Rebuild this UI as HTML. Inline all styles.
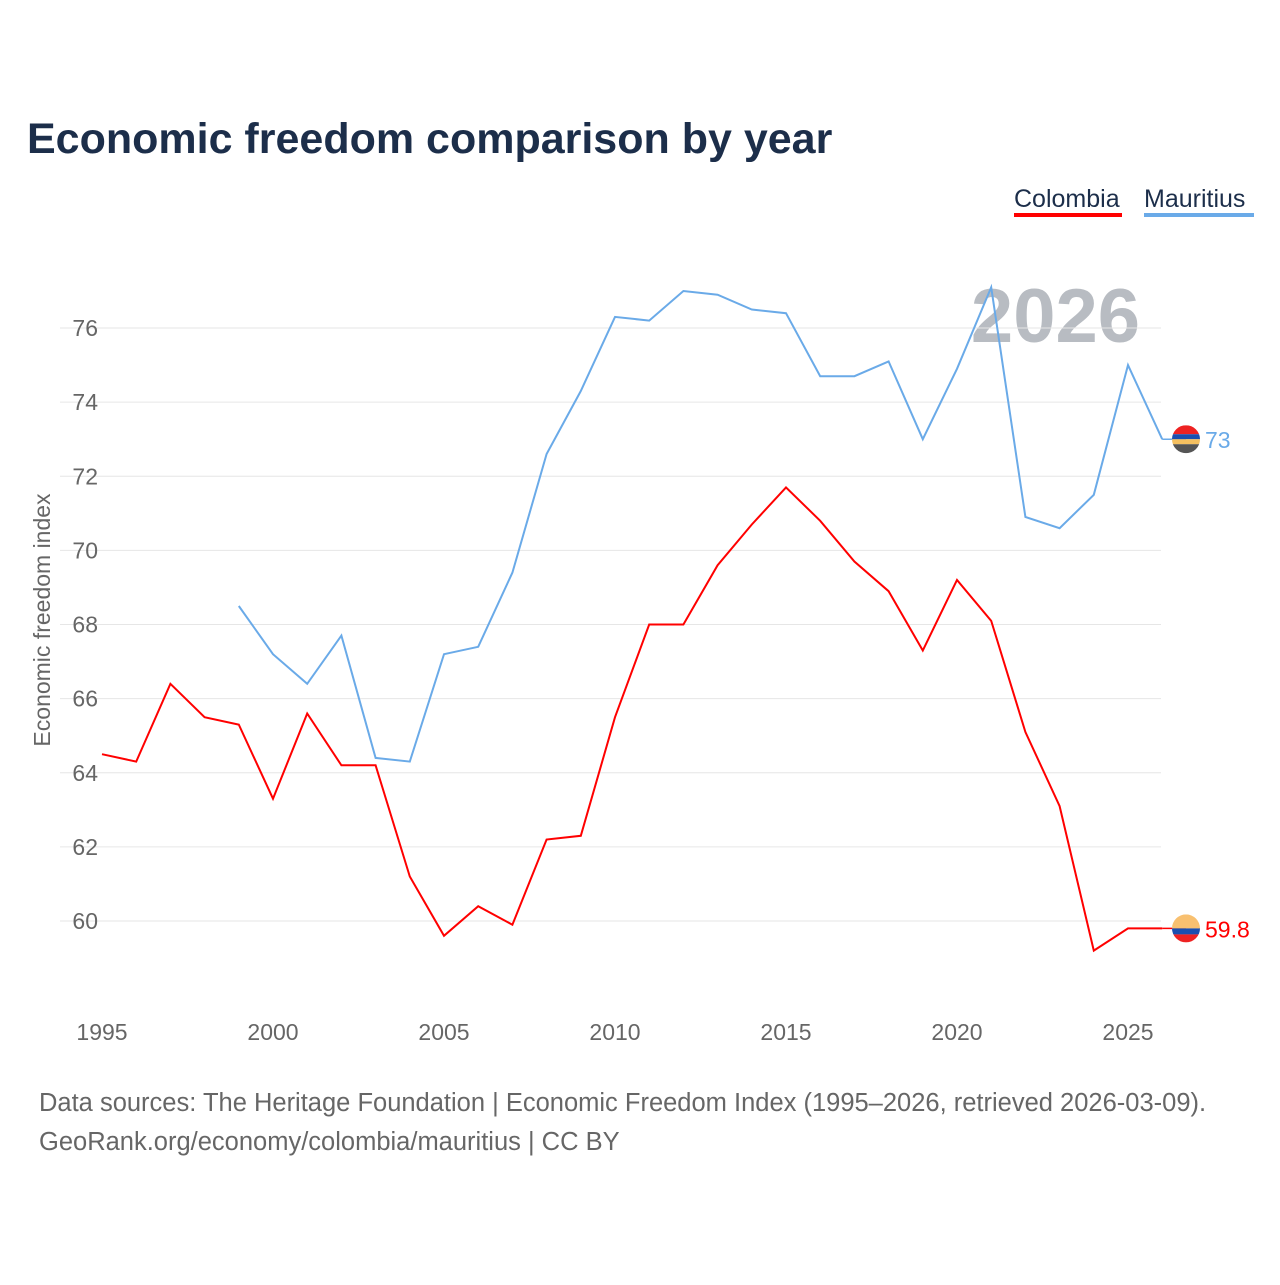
<!DOCTYPE html>
<html><head><meta charset="utf-8">
<style>
body{margin:0;background:#fff;}
svg text{font-family:"Liberation Sans",sans-serif;}
</style></head>
<body>
<svg id="chart" width="1280" height="1280" viewBox="0 0 1280 1280" xmlns="http://www.w3.org/2000/svg">
<rect width="1280" height="1280" fill="#fff"/>
<text x="27" y="153" font-size="43" font-weight="bold" fill="#1c2e4a">Economic freedom comparison by year</text>
<g>
<g><text x="1014" y="207" font-size="25" fill="#1c2e4a">Colombia</text><rect x="1014" y="213" width="108" height="4" fill="#ff0000"/></g>
<g><text x="1144" y="207" font-size="25" fill="#1c2e4a">Mauritius</text><rect x="1144" y="213" width="110" height="4" fill="#6aaae8"/></g>
</g>
<text x="1140" y="342" text-anchor="end" font-size="76" font-weight="bold" fill="#b8bcc2">2026</text>
<g id="grid"></g>
<g id="series"></g>
<text transform="translate(50,620) rotate(-90)" text-anchor="middle" font-size="23" fill="#666">Economic freedom index</text>
<text x="39" y="1111" font-size="25.5" fill="#666">Data sources: The Heritage Foundation | Economic Freedom Index (1995–2026, retrieved 2026-03-09).</text>
<text x="39" y="1150" font-size="25.5" fill="#666">GeoRank.org/economy/colombia/mauritius | CC BY</text>
</svg>
<script>
const years=[1995,1996,1997,1998,1999,2000,2001,2002,2003,2004,2005,2006,2007,2008,2009,2010,2011,2012,2013,2014,2015,2016,2017,2018,2019,2020,2021,2022,2023,2024,2025,2026];
const colombia=[64.5,64.3,66.4,65.5,65.3,63.3,65.6,64.2,64.2,61.2,59.6,60.4,59.9,62.2,62.3,65.5,68.0,68.0,69.6,70.7,71.7,70.8,69.7,68.9,67.3,69.2,68.1,65.1,63.1,59.2,59.8,59.8];
const mauritius=[null,null,null,null,68.5,67.2,66.4,67.7,64.4,64.3,67.2,67.4,69.4,72.6,74.3,76.3,76.2,77.0,76.9,76.5,76.4,74.7,74.7,75.1,73.0,74.9,77.1,70.9,70.6,71.5,75.0,73.0];
const yTicks=[60,62,64,66,68,70,72,74,76];
const xTicks=[1995,2000,2005,2010,2015,2020,2025];
const NS="http://www.w3.org/2000/svg";
const xS=y=>102+(y-1995)*34.2;
const yS=v=>921-(v-60)*37.06;
function mk(tag,attrs,parent){const e=document.createElementNS(NS,tag);for(const k in attrs)e.setAttribute(k,attrs[k]);parent.appendChild(e);return e;}
const grid=document.getElementById('grid');
yTicks.forEach(v=>{
 const l=mk('line',{x1:60,x2:1161,y1:yS(v),y2:yS(v),stroke:'#e6e6e6','stroke-width':1},grid);
 
 
 const t=mk('text',{x:98,y:yS(v)+8,'text-anchor':'end','font-size':23,fill:'#666'},grid);
 t.textContent=v;
 
 
});
xTicks.forEach(y=>{
 const t=mk('text',{x:xS(y),y:1040,'text-anchor':'middle','font-size':23,fill:'#666'},grid);
 t.textContent=y;
 
 
});
const ser=document.getElementById('series');
function draw(vals,color,name,labelColor,bands){
 let d='';let last=null;
 vals.forEach((v,i)=>{if(v==null)return;d+=(d?'L':'M')+xS(years[i]).toFixed(1)+','+yS(v).toFixed(1);last=[years[i],v];});
 const p=mk('path',{d:d,fill:'none',stroke:color,'stroke-width':2},ser);
 
 
 const cy=yS(last[1]);
 mk('line',{x1:xS(last[0]),x2:1186,y1:cy,y2:cy,stroke:color,'stroke-width':1.5},ser);
 const g=mk('g',{},ser);
 
 
 const cid='clip-'+name;
 const cp=mk('clipPath',{id:cid},g);
 mk('circle',{cx:1186,cy:cy,r:14},cp);
 let yy=cy-14;
 bands.forEach(b=>{mk('rect',{x:1172,y:yy,width:28,height:b[1],fill:b[0],'clip-path':'url(#'+cid+')'},g);yy+=b[1];});
 const t=mk('text',{x:1205,y:cy+9,'font-size':23,fill:labelColor},ser);
 t.textContent=last[1];
 
 
}
draw(mauritius,'#6aaae8','mauritius','#6aaae8',[['#ee2222',9],['#1a4fb0',5],['#f5c060',5],['#555',9]]);
draw(colombia,'#ff0000','colombia','#ff0000',[['#f8c070',14],['#1a4fb0',6],['#ee2222',8]]);
</script>
</body></html>
